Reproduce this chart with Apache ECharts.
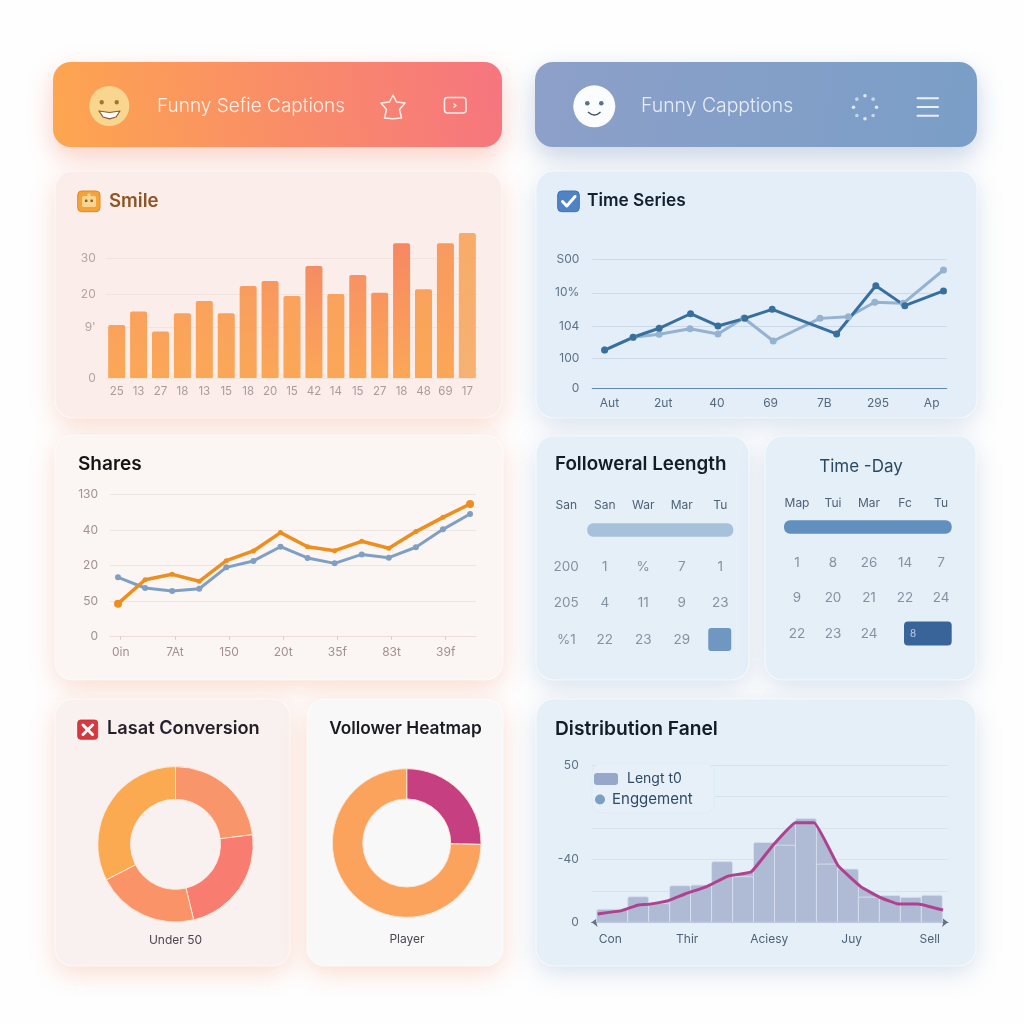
<!DOCTYPE html>
<html><head><meta charset="utf-8">
<style>html,body{margin:0;padding:0;background:#fff}#c{width:1024px;height:1024px}</style>
<script src="https://cdn.jsdelivr.net/npm/echarts@6/dist/echarts.min.js"></script>
</head><body><div id="c"></div>
<script>
// ---- data ----
const smileCats = ['25','13','27','18','13','15','18','20','15','42','14','15','27','18','48','69','17'];
const smileVals = [13.25,16.6,11.6,16.2,19.25,16.2,23,24.25,20.5,28,21,25.75,21.3,33.7,22.2,33.7,36.25];
const smileTickVals = [0,12.75,21,30];
const smileTickLabels = ['0','9\'','20','30'];

const timeTickVals = [0,23,48,74,100];
const timeTickLabels = ['0','100','104','10%','S00'];
const timeXTicks = [0,1,2,3,4,5,6];
const timeXLabels = ['Aut','2ut','40','69','7B','295','Ap'];
const timeDarkX = [-0.09,0.44,0.925,1.51,2.02,2.52,3.03,4.23,4.96,5.5,6.22];
const timeDarkY = [29.5,39.4,46.4,57.7,48.2,54.1,61.1,42,79.5,64,75.4];
const timeLightX = [-0.09,0.44,0.925,1.5,2.02,2.5,3.05,3.92,4.45,4.94,5.47,6.22];
const timeLightY = [29.5,39.4,41.7,46.1,42,54.4,36.5,54.1,55.4,66.6,65.8,91.7];

const shareX = [0,0.5,1,1.5,2,2.5,3,3.5,4,4.5,5,5.5,6,6.5];
const shareBlue = [41.7,34.2,32.1,33.7,48.7,53.2,63.2,55.3,51.5,57.8,55.5,62.8,75.4,86.2];
const shareOrange = [23.2,40,43.8,38.9,53.4,60.2,73.1,63.2,60.4,67,62.1,73.8,83.8,93.2];
const shareYLabels = ['0','50','20','40','130'];
const shareXTicks = [0.05,1.05,2.05,3.05,4.05,5.05,6.05];
const shareXLabels = ['0in','7At','150','20t','35f','83t','39f'];

const calLCols = ['San','San','War','Mar','Tu'];
const calLRows = [['200','1','%','7','1'],['205','4','11','9','23'],['%1','22','23','29','']];
const calLBand = [1,4,0];
const calLCell = [4,4,3];
const calRCols = ['Map','Tui','Mar','Fc','Tu'];
const calRRows = [['1','8','26','14','7'],['9','20','21','22','24'],['22','23','24','8','']];
const calRBand = [0,4,0];
const calRCell = [3,4,3];
const calRowNames = ['band','a','b','c'];

const donutLVals = [23,23.2,21.2,32.5];
const donutLNames = ['A','B','C','Under 50'];
const donutRVals = [25.3,74.7];
const donutRNames = ['Fan','Player'];

const distStart = [-0.48,1,2,3,4,5,6,7,8,9,10,11,12,13,14,15];
const distEnd = [1,2,3,4,5,6,7,8,9,10,11,12,13,14,15,16];
const distBars = [8.3,16.3,12,23.3,23.7,38.6,29,50.8,49,66,37,33.9,16,17,15.9,17.2];
const distLineX = [-0.43,0.71,1.51,1.98,2.94,3.73,4.76,5.79,6.9,7.94,9,9.89,11.03,12.11,13.02,13.89,14.84,16.03];
const distLineY = [5.3,7.4,11,11.4,13.8,18,22.7,29.4,32.2,49.2,63.3,63.3,36,22.7,15.9,11.7,11.7,7.8];
const distYLabels = ['0','','-40','','','50'];
const distXTicks = [0.17,3.84,7.75,11.68,15.4];
const distXLabels = ['Con','Thir','Aciesy','Juy','Sell'];

// ---- styling helpers ----
const FONT = 'Inter, "Liberation Sans", sans-serif';
const LG = (x0,y0,x1,y1,a,b) => new echarts.graphic.LinearGradient(x0,y0,x1,y1,[{offset:0,color:a},{offset:1,color:b}]);
const zip = (a,b) => a.map((v,i)=>[v,b[i]]);
const lookup = (vals,labels) => v => { const i = vals.indexOf(v); return i<0 ? '' : labels[i]; };

function card(x0,y0,x1,y1,fill,shadow,r){
  const shape={x:x0,y:y0,width:x1-x0,height:y1-y0,r:r||18};
  return [
    {type:'rect',z:-10,shape,style:{fill,shadowBlur:26,shadowOffsetY:7,shadowColor:shadow}},
    {type:'rect',z:-9,shape,style:{fill:'none',stroke:'rgba(255,255,255,0.55)',lineWidth:1.2}},
  ];
}
function text(t,x,y,size,color,weight,align){
  return {type:'text',z:5,style:{text:t,x,y,fill:color,align:align||'left',verticalAlign:'middle',
    font:(weight||500)+' '+size+'px '+FONT}};
}
function circle(cx,cy,r,style){return {type:'circle',z:5,shape:{cx,cy,r},style};}
function poly(points,style,closed,smooth){return {type:closed?'polygon':'polyline',z:5,shape:{points,smooth:smooth||0},style};}
function seg(x1,y1,x2,y2,style){return {type:'line',z:5,shape:{x1,y1,x2,y2},style};}
function rrect(x,y,w,h,r,style){return {type:'rect',z:5,shape:{x,y,width:w,height:h,r},style};}

const warm='rgba(243,140,100,0.30)', cool='rgba(120,150,195,0.28)';
const graphics = [
  {type:'rect',z:-10,shape:{x:53,y:62,width:449,height:85,r:18},
    style:{fill:LG(0,1,1,0.2,'#FDA64F','#F6757F'),shadowBlur:26,shadowOffsetY:10,shadowColor:'rgba(245,130,100,0.38)'}},
  {type:'rect',z:-10,shape:{x:535,y:62,width:442,height:85,r:18},
    style:{fill:LG(0,0,1,1,'#8DA0C9','#7A9EC7'),shadowBlur:26,shadowOffsetY:10,shadowColor:'rgba(110,140,185,0.38)'}},
  ...card(55,171,502,418,'#FBEDE9',warm),
  ...card(536,171,977,418,'#E4EEF8',cool),
  ...card(55,435,503,680,'#FBF6F3',warm),
  ...card(536,436,749,680,'#E5EFF8',cool),
  ...card(765,436,976,680,'#E5EFF8',cool),
  ...card(55,699,290,966,'#F9F1EF',warm),
  ...card(307,699,503,966,'#F9F8F9',warm),
  ...card(536,699,976,966,'#E5EFF8',cool),
  // legend box
  {type:'rect',z:1,shape:{x:592,y:763,width:122,height:50,r:10},style:{fill:'#E7F0F8',stroke:'#E1EBF5',lineWidth:1}},
  // header left
  circle(109.3,106,20,{fill:'#F8D68F'}),
  circle(101.7,102.3,2.2,{fill:'#A5703C'}),
  circle(116.7,102.3,2.2,{fill:'#A5703C'}),
  poly([[99,111],[109.5,112.5],[120,111],[116,117],[109.5,118.8],[103,117]],{fill:'#fff',stroke:'#8A5A2E',lineWidth:1.2,lineJoin:'round'},true),
  text('Funny Sefie Captions',157,106,19,'#FDEFE6',300),
  poly([[393,95],[396.5,102],[405,103],[399.5,109.5],[401.5,118],[393,118.8],[384.5,118],[386.5,109.5],[381,103],[389.5,102]],{fill:'none',stroke:'#FDEDE6',lineWidth:1.5,lineJoin:'round'},true),
  rrect(444.5,97.5,21.5,15.5,3,{fill:'none',stroke:'#FDEDE6',lineWidth:1.5}),
  poly([[453.5,103.5],[456,105.5],[453.5,107.5]],{fill:'none',stroke:'#FDEDE6',lineWidth:1.2}),
  // header right
  circle(594.3,106.3,21,{fill:'#FBFCFD'}),
  circle(587.3,103.3,2.3,{fill:'#5C6F8C'}),
  circle(601.3,103.3,2.3,{fill:'#5C6F8C'}),
  {type:'bezierCurve',z:5,shape:{x1:588,y1:112,x2:600.5,y2:112,cpx1:594.5,cpy1:118},style:{fill:'none',stroke:'#3F4E66',lineWidth:1.3}},
  text('Funny Capptions',641,106,19.4,'#E7EDF6',300),
  ...[0,1,2,3,4,5,6,7].map(i=>circle(865+11.5*Math.sin(i*Math.PI/4),107.3-11.5*Math.cos(i*Math.PI/4),1.8,{fill:i%2?'#C6D6E8':'#DDE7F2'})),
  ...[98.3,107,115.7].map(y=>rrect(916.5,y-1,22.5,2,1,{fill:'#EAF0F7'})),
  // title icons
  rrect(77.7,191,22.3,20.7,4,{fill:'#F3A33A',stroke:'#E08A20',lineWidth:1}),
  rrect(82,196,14,11,1.5,{fill:'#FBD48F'}),
  rrect(87.5,193.5,3,3,.5,{fill:'#FBD48F'}),
  rrect(85,199.5,2.4,2.4,.5,{fill:'#8A5A2E'}),
  rrect(90.5,199.5,2.4,2.4,.5,{fill:'#8A5A2E'}),
  rrect(557.7,191,21.6,20.7,4,{fill:'#4F83C3',stroke:'#3F72B0',lineWidth:1}),
  poly([[562.5,201.5],[566.8,206],[575,196.5]],{fill:'none',stroke:'#fff',lineWidth:3,lineCap:'round',lineJoin:'round'}),
  rrect(77.7,720,20,19.3,3,{fill:'#D43A3F',stroke:'#BF2F35',lineWidth:.8}),
  seg(83,725,92.5,734.5,{stroke:'#fff',lineWidth:3,lineCap:'round'}),
  seg(92.5,725,83,734.5,{stroke:'#fff',lineWidth:3,lineCap:'round'}),
  // titles
  text('Smile',109,201,18.6,'#8B5524',600),
  text('Time Series',587,201,17.3,'#12202F',600),
  text('Shares',78,464,19,'#151515',600),
  text('Followeral Leength',555,464,18.8,'#141C26',600),
  text('Time -Day',861,467,17,'#2A4A63',400,'center'),
  text('Lasat Conversion',107,729,18.2,'#241F28',600),
  text('Vollower Heatmap',405.5,729,17.3,'#1A1C22',600,'center'),
  text('Distribution Fanel',555,729,19.2,'#141C26',600),
  text('Under 50',175.5,940,12,'#4B4650',400,'center'),
  text('Player',407,939,12,'#4B4650',400,'center'),
];

const axisText = (color,size)=>({color,fontSize:size||12,fontFamily:FONT});
const noLine = {show:false};

const grids = [
  {left:105.7,top:233,width:372.6,height:145},
  {left:592.3,top:259.3,width:354.4,height:128.7},
  {left:110,top:494.3,width:366,height:142.4},
  {left:547,top:511.75,width:192.5,height:146},
  {left:779,top:509.25,width:180,height:142},
  {left:591.7,top:765,width:356.3,height:157.3},
];

const xAxes = [
  {gridIndex:0,type:'category',data:smileCats,axisLine:{lineStyle:{color:'#F7E3D8'}},axisTick:noLine,
    axisLabel:{...axisText('#AD9A96',11.5),margin:8,interval:0}},
  {gridIndex:1,type:'value',min:-0.32,max:6.28,splitLine:noLine,axisLine:{onZero:false,lineStyle:{color:'#5F8AAC',width:1.2}},
    axisTick:{show:false,customValues:timeXTicks},
    axisLabel:{...axisText('#53697E'),margin:9,customValues:timeXTicks,formatter:lookup(timeXTicks,timeXLabels),showMinLabel:true,showMaxLabel:true}},
  {gridIndex:2,type:'value',min:-0.148,max:6.61,splitLine:noLine,axisLine:{onZero:false,lineStyle:{color:'#EBDDD8'}},
    axisTick:{show:true,length:3,customValues:shareXTicks,lineStyle:{color:'#D9CAC5'},inside:false},
    axisLabel:{...axisText('#A2918E'),margin:10,customValues:shareXTicks,formatter:lookup(shareXTicks,shareXLabels)}},
  {gridIndex:3,type:'category',position:'top',data:calLCols,axisLine:noLine,axisTick:noLine,
    axisLabel:{...axisText('#4E6275'),margin:0,interval:0}},
  {gridIndex:4,type:'category',position:'top',data:calRCols,axisLine:noLine,axisTick:noLine,
    axisLabel:{...axisText('#4E6275'),margin:0,interval:0}},
  {gridIndex:5,type:'value',min:-0.714,max:16.27,splitLine:noLine,
    axisLine:{onZero:false,symbol:['arrow','arrow'],symbolSize:[7,6],lineStyle:{color:'#5F7384',width:1.2}},
    axisTick:{show:false,customValues:distXTicks},
    axisLabel:{...axisText('#4E6275'),margin:11,customValues:distXTicks,formatter:lookup(distXTicks,distXLabels)}},
];
const yAxes = [
  {gridIndex:0,type:'value',min:0,max:36.25,axisLine:noLine,axisTick:{show:false,customValues:smileTickVals},
    splitLine:{lineStyle:{color:'#F3E3DE'}},
    axisLabel:{...axisText('#B5A5A1'),margin:10,customValues:smileTickVals,formatter:lookup(smileTickVals,smileTickLabels)}},
  {gridIndex:1,type:'value',min:0,max:100,axisLine:noLine,axisTick:{show:false,customValues:timeTickVals},
    splitLine:{lineStyle:{color:'#CBD9E8'}},
    axisLabel:{...axisText('#5D7286'),margin:13,customValues:timeTickVals,formatter:lookup(timeTickVals,timeTickLabels)}},
  {gridIndex:2,type:'value',min:0,max:100,interval:25,axisLine:noLine,axisTick:noLine,
    splitLine:{lineStyle:{color:'#EFE5E0'}},
    axisLabel:{...axisText('#A2918E'),margin:12,formatter:(v)=>shareYLabels[Math.round(v/25)]}},
  {gridIndex:3,type:'category',inverse:true,data:calRowNames,axisLine:noLine,axisTick:noLine,axisLabel:noLine},
  {gridIndex:4,type:'category',inverse:true,data:calRowNames,axisLine:noLine,axisTick:noLine,axisLabel:noLine},
  {gridIndex:5,type:'value',min:0,max:100,interval:20,axisLine:noLine,axisTick:noLine,
    splitLine:{lineStyle:{color:'#D6E2EE'}},
    axisLabel:{...axisText('#5D7286'),margin:13,formatter:(v)=>distYLabels[Math.round(v/20)]}},
];

const barTopColors = {9:'#F58C64',12:'#F8945F',13:'#F78763',15:'#F89A60',16:'#F8A862',11:'#F89264',6:'#F89D60',7:'#F8975F'};

function bandRender(padL,padR,h,r,fill){
  return (params,api)=>{
    const a = api.coord([api.value(0),api.value(2)]);
    const b = api.coord([api.value(1),api.value(2)]);
    return {type:'rect',shape:{x:a[0]-padL,y:a[1]-h/2,width:b[0]-a[0]+padL+padR,height:h,r},style:{fill}};
  };
}
function bandSeries(idx,rows,render,z){
  return {type:'custom',xAxisIndex:idx,yAxisIndex:idx,coordinateSystem:'cartesian2d',z:z||2,silent:true,
    encode:{x:[0,1],y:2},data:rows,renderItem:render};
}
function calSeries(idx,rows,color,cell){
  const pts=[];
  rows.forEach((r,ri)=>r.forEach((t,ci)=>{
    if(!t) return;
    const inCell = cell && ci===cell[0] && ri+1===cell[2];
    pts.push(inCell ? {value:[ci,ri+1,t],label:{color:'#DCE8F4',fontSize:10,offset:[8,0]}} : [ci,ri+1,t]);
  }));
  return {type:'scatter',xAxisIndex:idx,yAxisIndex:idx,symbolSize:1,itemStyle:{color:'rgba(0,0,0,0)'},z:4,silent:true,
    encode:{x:0,y:1},data:pts,
    label:{show:true,position:'inside',fontFamily:FONT,fontSize:13.5,color:color,
      formatter:p=>p.value[2]}};
}

const series = [
  {name:'Smile',type:'bar',xAxisIndex:0,yAxisIndex:0,barWidth:17,z:2,
    data:smileVals.map((v,i)=>({value:v,itemStyle:{borderRadius:[2,2,0,0],
      color:LG(0,0,0,1,barTopColors[i]||'#FAA25C',i===16?'#F6AE6C':'#FBA757'),opacity:i===16?0.95:1}}))},
  {name:'Light',type:'line',xAxisIndex:1,yAxisIndex:1,data:zip(timeLightX,timeLightY),z:3,symbol:'circle',symbolSize:7,
    lineStyle:{color:'#93B3D1',width:3},itemStyle:{color:'#93B3D1'}},
  {name:'Dark',type:'line',xAxisIndex:1,yAxisIndex:1,data:zip(timeDarkX,timeDarkY),z:3,symbol:'circle',symbolSize:7,
    lineStyle:{color:'#37709F',width:3},itemStyle:{color:'#37709F'}},
  {name:'Blue',type:'line',xAxisIndex:2,yAxisIndex:2,data:zip(shareX,shareBlue),z:3,symbol:'circle',symbolSize:6,
    lineStyle:{color:'#7F9FC4',width:3},itemStyle:{color:'#7F9FC4'}},
  {name:'Orange',type:'line',xAxisIndex:2,yAxisIndex:2,data:zip(shareX,shareOrange),z:3,symbol:'circle',
    symbolSize:(v,p)=>(p.dataIndex===0||p.dataIndex===shareX.length-1)?8:5,
    lineStyle:{color:'#EE8E1F',width:3.5},itemStyle:{color:'#EE8E1F'}},
  bandSeries(3,[calLBand],bandRender(17.5,13,13.5,6,'#A6C1D9')),
  bandSeries(3,[calLCell],bandRender(12,11,23,3,'#6F97C2')),
  calSeries(3,calLRows,'#6A7B8A'),
  bandSeries(4,[calRBand],bandRender(13,10.7,13.5,6,'#6290BE')),
  bandSeries(4,[calRCell],bandRender(1,10.7,24,4,'#38649A')),
  calSeries(4,calRRows,'#6A7B8A',calRCell),
  {type:'pie',center:[175.5,844.3],radius:[45,77.7],startAngle:90,clockwise:true,silent:true,label:noLine,labelLine:noLine,
    data:donutLVals.map((v,i)=>({value:v,name:donutLNames[i],itemStyle:{color:['#F9956A','#F87C70','#FA9468','#FCAA52'][i]}})),
    itemStyle:{borderColor:'#FDE9D8',borderWidth:1}},
  {type:'pie',center:[406.7,843],radius:[44,74.3],startAngle:90,clockwise:true,silent:true,label:noLine,labelLine:noLine,
    data:donutRVals.map((v,i)=>({value:v,name:donutRNames[i],itemStyle:{color:['#C63F80','#FBA25C'][i]}})),
    itemStyle:{borderColor:'#FBE6D4',borderWidth:1}},
  {name:'Lengt t0',type:'custom',xAxisIndex:5,yAxisIndex:5,z:2,silent:true,encode:{x:[0,1],y:2},
    data:distStart.map((s,i)=>[s,distEnd[i],distBars[i]]),
    itemStyle:{color:'#AFBBD5'},
    renderItem:(p,api)=>{
      const a=api.coord([api.value(0),api.value(2)]), b=api.coord([api.value(1),0]);
      return {type:'rect',shape:{x:a[0],y:a[1],width:b[0]-a[0],height:b[1]-a[1],r:[2,2,0,0]},
        style:{fill:'#AFBBD5',stroke:'rgba(216,224,238,0.9)',lineWidth:1}};
    }},
  {name:'EnggementArea',type:'line',xAxisIndex:5,yAxisIndex:5,z:1.5,symbol:'none',smooth:0.1,data:zip(distLineX,distLineY),
    lineStyle:{width:0},areaStyle:{color:'#AFBBD5',opacity:1},silent:true},
  {name:'Enggement',type:'line',xAxisIndex:5,yAxisIndex:5,z:3,symbol:'none',smooth:0.1,data:zip(distLineX,distLineY),
    lineStyle:{color:'#B0418F',width:3},itemStyle:{color:'#7BA0C0'}},
];

const chart = echarts.init(document.getElementById('c'),null,{renderer:'canvas'});
chart.setOption({
  backgroundColor:'#FEFEFE',animation:false,
  graphic:graphics,
  grid:grids,xAxis:xAxes,yAxis:yAxes,series,
  legend:[
    {left:594,top:772,itemWidth:24,itemHeight:12,itemGap:4,padding:0,selectedMode:false,
      textStyle:{fontFamily:FONT,fontSize:14,color:'#2F4A66',padding:[0,0,0,4]},
      data:[{name:'Lengt t0',icon:'roundRect',itemStyle:{color:'#97A7C9'}}]},
    {left:595,top:792,itemWidth:10,itemHeight:10,itemGap:4,padding:0,selectedMode:false,
      textStyle:{fontFamily:FONT,fontSize:15,color:'#2F4A66',padding:[0,0,0,2]},
      data:[{name:'Enggement',icon:'circle',itemStyle:{color:'#7BA0C0'}}]},
  ],
});
</script></body></html>
